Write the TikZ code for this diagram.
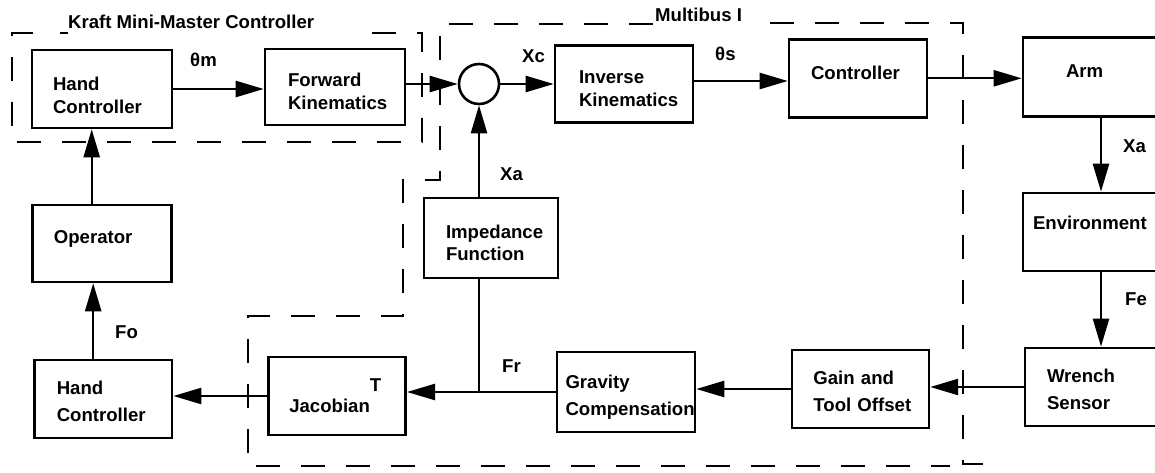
\documentclass[tikz,border=0pt]{standalone}
\usepackage{fontspec}
\setmainfont{Liberation Sans}
\usetikzlibrary{arrows.meta,calc}
\newcommand\dfonta{\fontsize{18.6}{22.7}\selectfont\bfseries\hyphenpenalty=10000 }
\newcommand\dfontb{\fontsize{18.6}{26.7}\selectfont\bfseries\hyphenpenalty=10000 }
\newcommand\dfontc{\fontsize{18.6}{21.3}\selectfont\bfseries\hyphenpenalty=10000 }
\newcommand\myhs[1]{\rule{0pt}{#1pt}}
\newcommand\mydp[1]{\rule[-#1pt]{0pt}{#1pt}}
\begin{document}
\begin{tikzpicture}[x=1pt,y=-1pt,
  box/.style={draw, line width=2.6pt, align=left, inner ysep=0pt, font=\dfonta},
  boxb/.style={box, font=\dfontb},
  arr/.style={line width=2.4pt, -{Triangle[length=28pt,width=16pt]}},
  plain/.style={line width=2.4pt},
  region/.style={line width=2.8pt, dash pattern=on 24pt off 21pt},
  lbl/.style={font=\dfonta, inner sep=0pt, anchor=base west}]
\useasboundingbox (0,0) rectangle (1155,473);
\fill[white] (0,0) rectangle (1155,473);
\clip (0,0) rectangle (1155,473);

% dashed regions
\draw[region] (33,33) -- (12,33) -- (12,142) -- (422,142) -- (422,33) -- (355,33);
\draw[line width=2.8pt] (60,33) -- (68,33);
\node[lbl] (kraft) at (68,29) {Kraft Mini-Master Controller};

\draw[region] (653,24) -- (440,24) -- (440,180) -- (403,180) -- (403,316) -- (248,316) -- (248,466) -- (950,466);
\draw[region] (770,23) -- (963,23) -- (963,464) -- (988,464);
\node[lbl] (multibus) at (655,22) {Multibus I};

% blocks
\node[box, minimum width=140pt, minimum height=78pt, text width=98pt, inner xsep=21pt] (hc1) at (102,89) {\myhs{25.6}Hand\\Controller};
\node[box, minimum width=140pt, minimum height=76pt, text width=94pt, inner xsep=23pt] (fk) at (335,87) {\myhs{22.2}Forward\\Kinematics};
\node[circle, draw, line width=2.6pt, minimum size=40pt, inner sep=0pt] (sum) at (479,84) {};
\node[box, minimum width=138pt, minimum height=77pt, text width=90pt, inner xsep=24pt] (ik) at (624,84) {\myhs{21.7}Inverse\\Kinematics};
\node[box, minimum width=138pt, minimum height=78pt, text width=94pt, inner xsep=22pt] (ctrl) at (858,78.3) {\mydp{11.9}Controller};
\node[box, minimum width=156pt, minimum height=79pt, text width=70pt, inner xsep=43pt] (arm) at (1101,77) {\mydp{12.7}Arm};
\node[box, minimum width=156pt, minimum height=78pt, text width=136pt, inner xsep=10pt] (env) at (1101,232) {\mydp{17.5}Environment};
\node[boxb, minimum width=154pt, minimum height=78pt, text width=110pt, inner xsep=22pt] (ws) at (1102,387) {\myhs{18.7}Wrench\\Sensor};
\node[boxb, minimum width=137pt, minimum height=78pt, text width=94pt, inner xsep=21.5pt] (gto) at (860.4,389) {\myhs{18.7}Gain~and\\Tool~Offset};
\node[boxb, minimum width=138pt, minimum height=80pt, text width=121pt, inner xsep=8.5pt] (gc) at (626,392) {\myhs{23.2}Gravity\\Compensation};
\node[box, minimum width=134pt, minimum height=80pt, text width=90pt, inner xsep=22pt] (imp) at (491,238) {\myhs{23.3}Impedance\\Function};
\node[box, font=\dfontc, minimum width=137.4pt, minimum height=78pt, text width=95.4pt, inner xsep=21pt] (jac) at (337,396) {\hphantom{Jacobian}T\\Jacobian};
\node[box, minimum width=139pt, minimum height=77pt, text width=95.6pt, inner xsep=21.7pt] (op) at (101.7,243.5) {\mydp{13.7}Operator};
\node[boxb, minimum width=137.7pt, minimum height=78pt, text width=92.9pt, inner xsep=22.4pt] (hc2) at (103.2,399) {\myhs{18.7}Hand\\Controller};

\coordinate (jn) at (sum.south |- gc.west);

% connectors
\draw[arr] (hc1.east) -- (hc1.east -| fk.west);
\draw[arr] (fk.east |- sum.west) -- (sum.west);
\draw[arr] (sum.east) -- (sum.east -| ik.west);
\draw[arr] ([yshift=3pt]ik.east) -- ([yshift=3pt]ik.east -| ctrl.west);
\draw[arr] (ctrl.east) -- (ctrl.east -| arm.west);
\draw[arr] (arm.south) -- (env.north);
\draw[arr] (env.south) -- (env.south |- ws.north);
\draw[arr] (ws.west) -- (ws.west -| gto.east);
\draw[arr] (gto.west) -- (gto.west -| gc.east);
\draw[arr] (gc.west) -- (gc.west -| jac.east);
\draw[plain] (imp.south -| jn) -- (jn);
\draw[arr] (imp.north -| sum.south) -- (sum.south);
\draw[arr] (jac.west) -- (jac.west -| hc2.east);
\draw[arr] ([xshift=-10pt]hc2.north) -- ([xshift=-10pt]hc2.north |- op.south);
\draw[arr] ([xshift=-10pt]op.north) -- ([xshift=-10pt]op.north |- hc1.south);

% signal labels
\node[lbl] (thm) at (190,67) {θm};
\node[lbl] (xc) at (522,63) {Xc};
\node[lbl] (ths) at (715,61) {θs};
\node[lbl] (xa1) at (1123,153) {Xa};
\node[lbl] (fe) at (1125,305) {Fe};
\node[lbl] (xa2) at (500,180) {Xa};
\node[lbl] (fr) at (502,372) {Fr};
\node[lbl] (fo) at (115,338) {Fo};
\end{tikzpicture}
\end{document}
